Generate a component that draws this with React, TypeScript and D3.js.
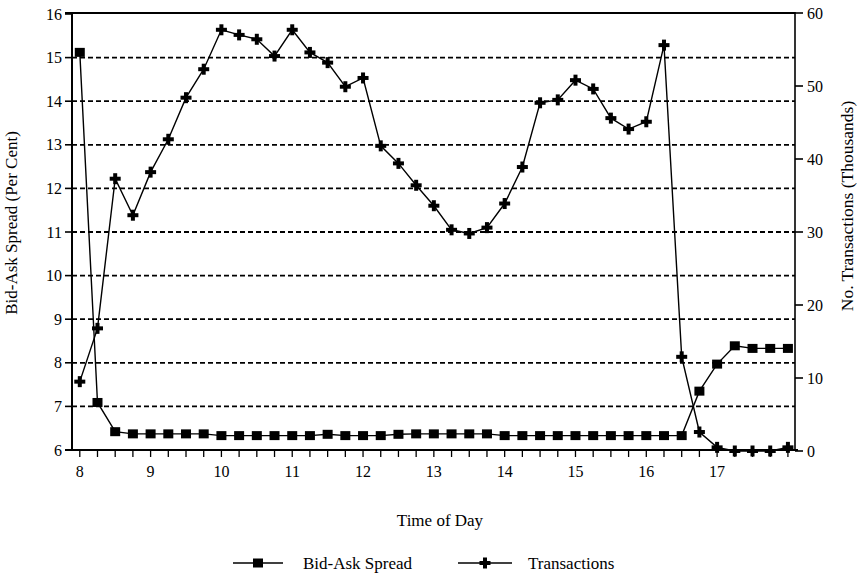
import React from "react";
import * as d3 from "d3";

const times: number[] = [
  8, 8.25, 8.5, 8.75, 9, 9.25, 9.5, 9.75, 10, 10.25, 10.5, 10.75, 11, 11.25, 11.5, 11.75,
  12, 12.25, 12.5, 12.75, 13, 13.25, 13.5, 13.75, 14, 14.25, 14.5, 14.75, 15, 15.25, 15.5,
  15.75, 16, 16.25, 16.5, 16.75, 17, 17.25, 17.5, 17.75, 18,
];

const spread: number[] = [
  15.12, 7.09, 6.42, 6.37, 6.37, 6.37, 6.37, 6.37, 6.33, 6.33, 6.33, 6.33, 6.33, 6.33, 6.36,
  6.33, 6.33, 6.33, 6.36, 6.37, 6.37, 6.37, 6.37, 6.37, 6.33, 6.33, 6.33, 6.33, 6.33, 6.33,
  6.33, 6.33, 6.33, 6.33, 6.33, 7.35, 7.97, 8.39, 8.33, 8.33, 8.33,
];

const transactions: number[] = [
  9.5, 16.8, 37.3, 32.3, 38.2, 42.7, 48.4, 52.3, 57.7, 57.0, 56.4, 54.1, 57.7, 54.6, 53.2,
  49.9, 51.1, 41.8, 39.4, 36.4, 33.6, 30.3, 29.8, 30.6, 33.9, 38.9, 47.7, 48.1, 50.8, 49.6,
  45.6, 44.1, 45.1, 55.6, 12.9, 2.6, 0.5, 0.0, 0.0, 0.0, 0.5,
];

const leftTicks: number[] = [6, 7, 8, 9, 10, 11, 12, 13, 14, 15, 16];
const gridValues: number[] = [7, 8, 9, 10, 11, 12, 13, 14, 15];
const rightTicks: number[] = [0, 10, 20, 30, 40, 50, 60];
const xLabels: number[] = [8, 9, 10, 11, 12, 13, 14, 15, 16, 17];

const W = 858;
const H = 576;
const X0 = 72;
const X1 = 795;
const Y_TOP = 14;
const Y_BOT = 450;

const FONT = "'Liberation Serif', 'Times New Roman', serif";

function Square({ x, y }: { x: number; y: number }) {
  return <rect x={x - 5} y={y - 4.5} width={10} height={9} fill="#000" />;
}

function Cross({ x, y }: { x: number; y: number }) {
  return (
    <g fill="#000">
      <rect x={x - 5.5} y={y - 2} width={11} height={4} />
      <rect x={x - 2} y={y - 5.5} width={4} height={11} />
    </g>
  );
}

export default function App() {
  const x = d3.scaleLinear().domain([7.89, 18.1]).range([X0, X1]);
  const yL = d3.scaleLinear().domain([6, 16]).range([Y_BOT, Y_TOP]);
  const yR = d3.scaleLinear().domain([0, 60]).range([Y_BOT + 1, Y_TOP - 1]);

  const spreadLine = d3
    .line<number>()
    .x((_, i) => x(times[i]))
    .y((d) => yL(d));
  const transLine = d3
    .line<number>()
    .x((_, i) => x(times[i]))
    .y((d) => yR(d));

  const xTicks = d3.range(0, 41).map((i) => 8 + i * 0.25);

  return (
    <svg
      width={W}
      height={H}
      style={{ position: "absolute", left: 0, top: 0, background: "#fff" }}
      fontFamily={FONT}
    >
      <rect x={0} y={0} width={W} height={H} fill="#fff" />
      {/* grid */}
      {gridValues.map((v) => (
        <line
          key={"g" + v}
          x1={X0}
          x2={X1}
          y1={yL(v)}
          y2={yL(v)}
          stroke="#000"
          strokeWidth={1.8}
          strokeDasharray="5,3"
        />
      ))}
      {/* frame */}
      <line x1={X0 - 7} x2={X1} y1={Y_TOP - 1} y2={Y_TOP - 1} stroke="#000" strokeWidth={2} />
      <line x1={X0 - 7} x2={X1 + 3} y1={Y_BOT} y2={Y_BOT} stroke="#000" strokeWidth={2} />
      <line x1={X0} x2={X0} y1={Y_TOP - 2} y2={Y_BOT} stroke="#000" strokeWidth={2} />
      <line x1={X1} x2={X1} y1={Y_TOP - 2} y2={Y_BOT + 1} stroke="#000" strokeWidth={1.6} />

      {/* left axis */}
      {leftTicks.map((v) => (
        <g key={"l" + v}>
          <line x1={X0 - 7} x2={X0} y1={yL(v)} y2={yL(v)} stroke="#000" strokeWidth={1.6} />
          <text x={X0 - 10} y={yL(v)} dy="0.35em" textAnchor="end" fontSize={16}>
            {v}
          </text>
        </g>
      ))}
      {/* right axis */}
      {rightTicks.map((v) => (
        <g key={"r" + v}>
          <line x1={X1} x2={X1 + 8} y1={yR(v)} y2={yR(v)} stroke="#000" strokeWidth={1.6} />
          <text x={X1 + 12} y={yR(v)} dy="0.35em" textAnchor="start" fontSize={16}>
            {v}
          </text>
        </g>
      ))}
      {/* x axis ticks */}
      {xTicks.map((t) => (
        <line
          key={"t" + t}
          x1={x(t)}
          x2={x(t)}
          y1={Y_BOT}
          y2={Y_BOT + 7}
          stroke="#000"
          strokeWidth={1.3}
        />
      ))}
      {xLabels.map((t) => (
        <text key={"xl" + t} x={x(t)} y={Y_BOT + 27} textAnchor="middle" fontSize={16}>
          {t}
        </text>
      ))}

      {/* axis titles */}
      <text transform={`translate(17, 223) rotate(-90)`} textAnchor="middle" fontSize={17}>
        Bid-Ask Spread (Per Cent)
      </text>
      <text transform={`translate(853, 206) rotate(-90)`} textAnchor="middle" fontSize={17.5}>
        No. Transactions (Thousands)
      </text>
      <text x={440} y={526} textAnchor="middle" fontSize={17}>
        Time of Day
      </text>

      {/* series */}
      <path d={spreadLine(spread) || ""} fill="none" stroke="#000" strokeWidth={1.4} />
      <path d={transLine(transactions) || ""} fill="none" stroke="#000" strokeWidth={1.4} />
      {spread.map((v, i) => (
        <Square key={"s" + i} x={x(times[i])} y={yL(v)} />
      ))}
      {transactions.map((v, i) => (
        <Cross key={"c" + i} x={x(times[i])} y={yR(v)} />
      ))}

      {/* legend */}
      <line x1={233} x2={283} y1={563} y2={563} stroke="#000" strokeWidth={1.6} />
      <Square x={258} y={563} />
      <text x={303} y={563} dy="0.35em" fontSize={17}>
        Bid-Ask Spread
      </text>
      <line x1={458} x2={512} y1={563} y2={563} stroke="#000" strokeWidth={1.6} />
      <Cross x={485} y={563} />
      <text x={528} y={563} dy="0.35em" fontSize={17}>
        Transactions
      </text>
    </svg>
  );
}
